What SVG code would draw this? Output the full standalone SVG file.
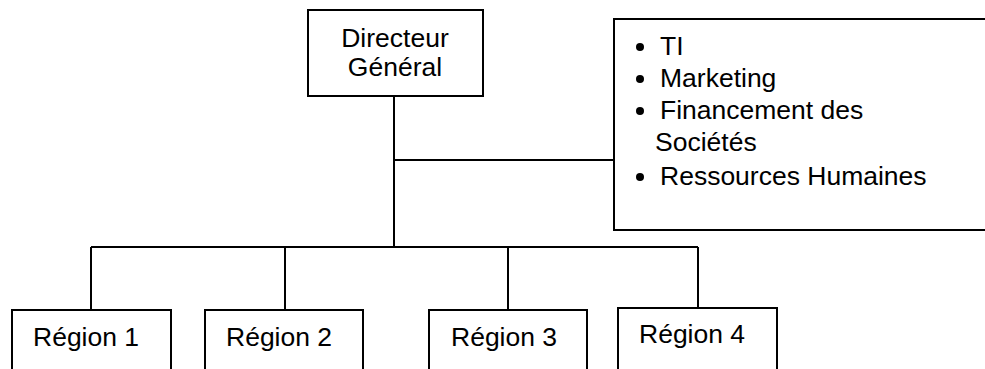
<svg xmlns="http://www.w3.org/2000/svg" width="985" height="369" viewBox="0 0 985 369">
<style>
.box{fill:#fff;stroke:#000;stroke-width:2}
.ln{fill:none;stroke:#000;stroke-width:2}
text{font-family:"Liberation Sans",Arial,sans-serif;font-size:26.5px;fill:#000}
</style>
<rect width="985" height="369" fill="#fff"/>
<g id="connectors">
<path class="ln" d="M394 96V247"/>
<path class="ln" d="M394 160H614"/>
<path class="ln" d="M91 247H698"/>
<path class="ln" d="M91 247V310M285 247V310M508 247V310M698 247V308"/>
</g>
<g id="directeur">
<rect class="box" x="308" y="10" width="175" height="86"/>
<text x="395" y="47" text-anchor="middle">Directeur</text>
<text x="395" y="76" text-anchor="middle">Général</text>
</g>
<g id="services">
<rect class="box" x="614" y="19" width="372" height="211"/>
<circle cx="640" cy="47" r="4"/>
<circle cx="640" cy="79" r="4"/>
<circle cx="640" cy="111" r="4"/>
<circle cx="640" cy="177" r="4"/>
<text x="660" y="55">TI</text>
<text x="660" y="87">Marketing</text>
<text x="660" y="119">Financement des</text>
<text x="655" y="151">Sociétés</text>
<text x="660" y="185">Ressources Humaines</text>
</g>
<g id="region1">
<rect class="box" x="12" y="310" width="159" height="80"/>
<text x="33" y="346">Région 1</text>
</g>
<g id="region2">
<rect class="box" x="205" y="310" width="158" height="80"/>
<text x="226" y="346">Région 2</text>
</g>
<g id="region3">
<rect class="box" x="429" y="310" width="158" height="80"/>
<text x="451" y="346">Région 3</text>
</g>
<g id="region4">
<rect class="box" x="618" y="308" width="159" height="82"/>
<text x="639" y="343">Région 4</text>
</g>
</svg>
